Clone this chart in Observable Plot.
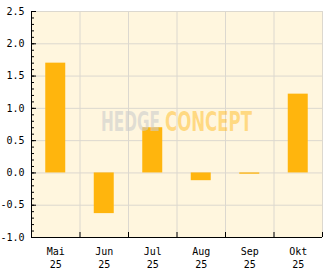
<!DOCTYPE html>
<html>
<head>
<meta charset="utf-8">
<script src="https://cdn.jsdelivr.net/npm/d3@7"></script>
<script src="https://cdn.jsdelivr.net/npm/@observablehq/plot@0.6"></script>
<style>
  html, body { margin: 0; padding: 0; background: #ffffff; }
  #chart svg { display: block; }
</style>
</head>
<body>
<div id="chart"></div>
<script>
const months = ["Mai", "Jun", "Jul", "Aug", "Sep", "Okt"];
const years = ["25", "25", "25", "25", "25", "25"];
const values = [1.70, -0.63, 0.70, -0.12, -0.02, 1.22];
const yMajorTicks = [-1.0, -0.5, 0.0, 0.5, 1.0, 1.5, 2.0, 2.5];
const yMinorTicks = d3.range(-10, 26).map(v => v / 10);
const watermarkWords = ["HEDGE", "CONCEPT"];

const data = months.map((m, i) => ({i, label: m + "\n" + years[i], value: values[i]}));
const boundaries = d3.range(0, months.length + 1);
const half = 0.206;

const font = "'DejaVu Sans Mono', monospace";
const blank = () => "";

const plot = Plot.plot({
  width: 332,
  height: 269,
  marginLeft: 31,
  marginRight: 10,
  marginTop: 11,
  marginBottom: 32,
  style: {background: "#ffffff", fontFamily: font, fontSize: "10px", color: "#000"},
  x: {type: "linear", domain: [0, months.length], axis: null},
  y: {domain: [-1, 2.5], axis: null},
  marks: [
    Plot.frame({fill: "#fff6de", stroke: null}),
    Plot.gridY(yMajorTicks, {stroke: "#dcd8cf", strokeOpacity: 1}),
    Plot.gridX(boundaries, {stroke: "#dcd8cf", strokeOpacity: 1}),
    Plot.rectY(data, {x1: d => d.i + 0.5 - half, x2: d => d.i + 0.5 + half, y1: 0, y2: "value", fill: "#ffb50d"}),
    Plot.text([watermarkWords[0]], {text: d => d, frameAnchor: "middle", dx: -46.5, dy: -1.5, fill: "#cccccc", fillOpacity: 0.6, fontSize: 26, fontWeight: "bold", fontFamily: "'DejaVu Sans Condensed', sans-serif"}),
    Plot.text([watermarkWords[1]], {text: d => d, frameAnchor: "middle", dx: 31.5, dy: -1.5, fill: "#ffb50d", fillOpacity: 0.45, fontSize: 26, fontWeight: "bold", fontFamily: "'DejaVu Sans Condensed', sans-serif"}),
    Plot.ruleX([months.length], {stroke: "#dcd8cf"}),
    Plot.ruleY([2.5], {stroke: "#dcd8cf"}),
    Plot.axisY(yMinorTicks, {tickSize: -3, tickFormat: blank, label: null, stroke: "#000"}),
    Plot.axisY(yMajorTicks, {tickSize: -5, tickFormat: d => d.toFixed(1), label: null, tickPadding: 12, fontFamily: font, fontSize: 10, fill: "#000"}),
    Plot.axisX(boundaries, {tickSize: -5, tickFormat: blank, label: null, stroke: "#000"}),
    Plot.axisX(data.map(d => d.i + 0.5), {tickSize: 0, tickPadding: 9, tickFormat: (d) => data[Math.floor(d)].label, label: null, fontFamily: font, fontSize: 10, lineHeight: 1.25, fill: "#000"}),
    Plot.ruleX([0], {stroke: "#000"}),
    Plot.ruleY([-1], {stroke: "#000"})
  ]
});

document.getElementById("chart").appendChild(plot);

// condense watermark glyphs to the reference's narrow face
const lengths = {HEDGE: 59, CONCEPT: 87};
d3.select(plot).selectAll("text").each(function() {
  const t = this.textContent;
  if (lengths[t]) {
    d3.select(this).attr("textLength", lengths[t]).attr("lengthAdjust", "spacingAndGlyphs");
  }
});
</script>
</body>
</html>
